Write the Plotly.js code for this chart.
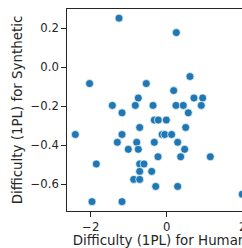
<!DOCTYPE html>
<html><head><meta charset="utf-8">
<script src="https://cdn.plot.ly/plotly-3.0.1.min.js"></script>
<style>html,body{margin:0;padding:0;overflow:hidden;background:#fff}#chart{width:271px;height:248px}</style>
</head><body><div id="chart"></div>
<script>
const humanDifficulty = [-1.255, 0.253, 0.613, -2.03, -0.537, 0.184, -0.747, 0.718, 0.947, -1.43, -0.826, -0.36, 0.245, 0.437, 0.911, -1.176, 0.569, -0.326, -0.221, -0.01, -0.711, 0.5, -2.405, -1.176, -0.12, -0.05, 0.13, -1.3, -0.789, -0.326, 0.289, -1.01, -0.747, 0.473, -0.229, 0.368, 1.148, -1.853, -0.711, -0.597, -0.711, -0.395, -0.868, -0.711, -0.289, 0.289, -1.966, -1.176, 1.99];
const syntheticDifficulty = [0.251, 0.177, -0.048, -0.084, -0.084, -0.120, -0.158, -0.158, -0.158, -0.196, -0.196, -0.196, -0.196, -0.196, -0.196, -0.234, -0.234, -0.271, -0.271, -0.271, -0.309, -0.309, -0.345, -0.345, -0.345, -0.345, -0.345, -0.385, -0.385, -0.385, -0.385, -0.421, -0.421, -0.421, -0.459, -0.459, -0.459, -0.496, -0.496, -0.496, -0.534, -0.534, -0.575, -0.575, -0.611, -0.611, -0.689, -0.689, -0.651];
const xTitle = "Difficulty (1PL) for Humans";
const yTitle = "Difficulty (1PL) for Synthetic";

const ink = "#262626";
const font = {family: "DejaVu Sans", size: 13.4, color: ink};
const trace = {
  x: humanDifficulty, y: syntheticDifficulty, type: "scatter", mode: "markers",
  marker: {color: "#1f77b4", size: 8, line: {color: "#ffffff", width: 0.7}},
  hoverinfo: "skip"
};
const axisBase = {
  showgrid: false, zeroline: false, showline: true, mirror: true,
  linecolor: ink, linewidth: 1.25, ticks: "outside", ticklen: 4.5, tickwidth: 1.25,
  tickcolor: ink, tickfont: {family: "DejaVu Sans", size: 11.7, color: ink}
};
const layout = {
  width: 271, height: 248,
  margin: {l: 67, r: 12, t: 9, b: 37},
  paper_bgcolor: "#fff", plot_bgcolor: "#fff",
  font: font, showlegend: false,
  xaxis: Object.assign({}, axisBase, {
    range: [-2.624, 2.43], tickmode: "linear", tick0: 0, dtick: 2,
    title: {text: xTitle, font: font, standoff: 2}
  }),
  yaxis: Object.assign({}, axisBase, {
    range: [-0.737, 0.298], tickmode: "linear", tick0: 0, dtick: 0.2, tickformat: ".1f",
    title: {text: yTitle, font: font, standoff: 4}
  })
};
Plotly.newPlot("chart", [trace], layout, {displayModeBar: false, staticPlot: true});
</script></body></html>
